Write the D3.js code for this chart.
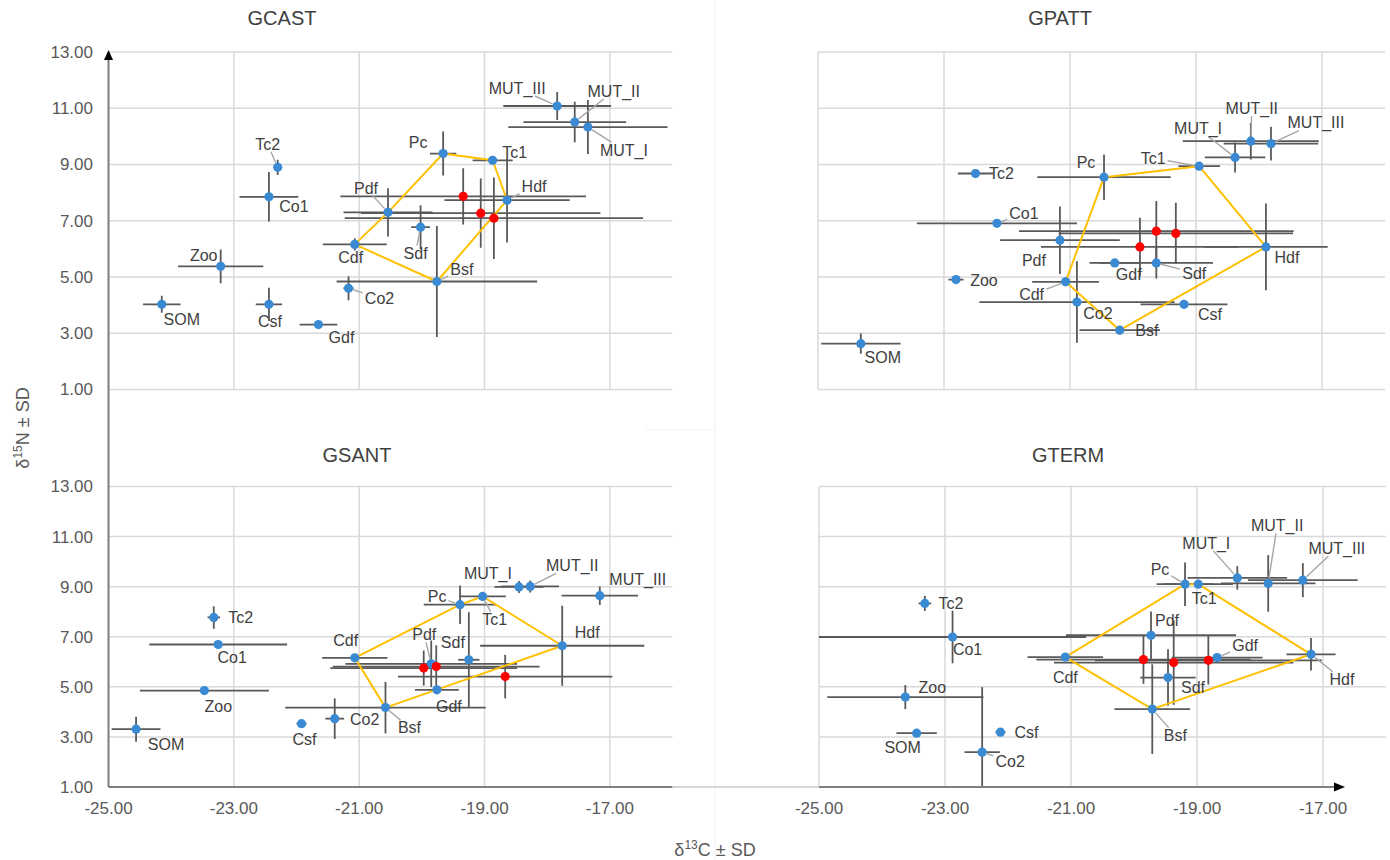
<!DOCTYPE html>
<html>
<head>
<meta charset="utf-8">
<script src="https://cdn.jsdelivr.net/npm/d3@7"></script>
<style>
  body { margin: 0; background: #fff; }
  text { font-family: "Liberation Sans", Arial, sans-serif; }
</style>
</head>
<body>
<svg id="chart" width="1390" height="860"></svg>
<script>
// ---- axis ticks ----
const xTicks = [-25, -23, -21, -19, -17];
const yTicks = [1, 3, 5, 7, 9, 11, 13];
const panelNames = ["GCAST", "GPATT", "GSANT", "GTERM"];

// ---- group means: [group, δ13C, SD, δ15N, SD] ----
const gcast = [
  ["SOM", -24.15, 0.30, 4.03, 0.30],
  ["Zoo", -23.21, 0.68, 5.38, 0.60],
  ["Tc2", -22.30, 0.06, 8.90, 0.27],
  ["Co1", -22.44, 0.47, 7.85, 0.88],
  ["Csf", -22.44, 0.21, 4.03, 0.59],
  ["Gdf", -21.65, 0.30, 3.31, 0.08],
  ["Co2", -21.17, 0.08, 4.60, 0.43],
  ["Cdf", -21.07, 0.51, 6.16, 0.22],
  ["Pdf", -20.54, 0.71, 7.30, 0.86],
  ["Sdf", -20.02, 0.15, 6.77, 0.78],
  ["Pc", -19.66, 0.21, 9.39, 0.78],
  ["Bsf", -19.76, 1.60, 4.84, 1.97],
  ["Tc1", -18.87, 0.32, 9.15, 0.10],
  ["Hdf", -18.64, 1.00, 7.73, 1.50],
  ["MUT_I", -17.35, 1.27, 10.33, 0.96],
  ["MUT_II", -17.56, 0.82, 10.51, 0.72],
  ["MUT_III", -17.84, 0.86, 11.08, 0.50]
];
const gpatt = [
  ["SOM", -24.32, 0.63, 2.63, 0.36],
  ["Zoo", -22.81, 0.12, 4.91, 0.04],
  ["Tc2", -22.50, 0.28, 8.68, 0.15],
  ["Co1", -22.16, 1.27, 6.91, 0.05],
  ["Pdf", -21.16, 0.95, 6.31, 1.20],
  ["Cdf", -21.07, 0.53, 4.83, 0.15],
  ["Co2", -20.89, 1.55, 4.11, 1.45],
  ["Pc", -20.46, 1.06, 8.55, 0.81],
  ["Gdf", -20.29, 0.40, 5.50, 0.08],
  ["Bsf", -20.21, 0.64, 3.11, 0.15],
  ["Sdf", -19.63, 0.90, 5.50, 0.55],
  ["Csf", -19.19, 0.69, 4.03, 0.10],
  ["Tc1", -18.95, 0.33, 8.94, 0.12],
  ["MUT_I", -18.38, 0.48, 9.25, 0.53],
  ["MUT_II", -18.13, 1.08, 9.83, 0.65],
  ["MUT_III", -17.81, 0.75, 9.74, 0.60],
  ["Hdf", -17.89, 0.98, 6.07, 1.54]
];
const gsant = [
  ["SOM", -24.56, 0.39, 3.31, 0.50],
  ["Zoo", -23.47, 1.03, 4.85, 0.04],
  ["Tc2", -23.32, 0.10, 7.77, 0.45],
  ["Co1", -23.25, 1.10, 6.69, 0.10],
  ["Csf", -21.92, 0.08, 3.53, 0.06],
  ["Co2", -21.39, 0.15, 3.73, 0.81],
  ["Cdf", -21.07, 0.52, 6.16, 0.15],
  ["Bsf", -20.58, 1.60, 4.17, 1.03],
  ["Pdf", -19.85, 1.37, 5.92, 0.93],
  ["Gdf", -19.76, 0.35, 4.88, 0.08],
  ["Pc", -19.39, 0.58, 8.28, 0.77],
  ["Sdf", -19.25, 0.17, 6.08, 1.90],
  ["Tc1", -19.03, 0.37, 8.61, 0.10],
  ["MUT_I", -18.45, 0.39, 8.99, 0.24],
  ["MUT_II", -18.27, 0.46, 9.01, 0.24],
  ["Hdf", -17.76, 1.31, 6.64, 1.60],
  ["MUT_III", -17.16, 0.61, 8.64, 0.37]
];
const gterm = [
  ["SOM", -23.45, 0.32, 3.15, 0.08],
  ["Zoo", -23.63, 1.24, 4.59, 0.48],
  ["Tc2", -23.32, 0.10, 8.33, 0.30],
  ["Co1", -22.88, 2.12, 6.99, 1.05],
  ["Csf", -22.12, 0.08, 3.19, 0.06],
  ["Co2", -22.41, 0.28, 2.39, 2.60],
  ["Cdf", -21.09, 0.60, 6.19, 0.15],
  ["Pdf", -19.73, 1.35, 7.06, 0.95],
  ["Bsf", -19.71, 0.60, 4.11, 1.79],
  ["Sdf", -19.46, 0.44, 5.37, 1.13],
  ["Pc", -19.19, 0.45, 9.10, 0.87],
  ["Tc1", -18.98, 0.55, 9.10, 0.10],
  ["Gdf", -18.68, 0.72, 6.17, 0.10],
  ["MUT_I", -18.36, 0.79, 9.35, 0.47],
  ["MUT_II", -17.87, 0.75, 9.13, 1.13],
  ["MUT_III", -17.32, 0.87, 9.26, 0.68],
  ["Hdf", -17.19, 0.39, 6.30, 0.65]
];

// ---- consumer mixture points (red): [δ13C, SD, δ15N, SD] ----
const gcastMix = [[-19.34, 1.96, 7.87, 1.00], [-19.06, 1.91, 7.27, 1.23], [-18.85, 2.38, 7.09, 1.45]];
const gpattMix = [[-19.89, 1.57, 6.07, 1.04], [-19.63, 2.18, 6.63, 1.07], [-19.32, 1.86, 6.55, 1.09]];
const gsantMix = [[-19.97, 1.49, 5.75, 0.70], [-19.77, 1.65, 5.81, 0.85], [-18.67, 1.71, 5.41, 0.87]];
const gtermMix = [[-19.85, 1.70, 6.09, 0.97], [-19.37, 1.90, 5.97, 1.69], [-18.82, 1.80, 6.06, 0.97]];

// ---- groups outlining the fish polygon ----
const hullGCAST = ["Cdf", "Pdf", "Pc", "Tc1", "Hdf", "Bsf"];
const hullGPATT = ["Cdf", "Pc", "Tc1", "Hdf", "Bsf"];
const hullGSANT = ["Cdf", "Pc", "Tc1", "Hdf", "Bsf"];
const hullGTERM = ["Cdf", "Pc", "Tc1", "Hdf", "Bsf"];

const sources = {
  GCAST: { rows: gcast, mix: gcastMix, hull: hullGCAST },
  GPATT: { rows: gpatt, mix: gpattMix, hull: hullGPATT },
  GSANT: { rows: gsant, mix: gsantMix, hull: hullGSANT },
  GTERM: { rows: gterm, mix: gtermMix, hull: hullGTERM }
};

// ---- panel frames (pixel layout) ----
const frames = {
  GCAST: { xr: [108.5, 672.5], yr: [389.5, 52], title: [282, 25], outerX: false, bottomAxis: false },
  GPATT: { xr: [818, 1385], yr: [389.5, 52], title: [1060, 25], outerX: true, bottomAxis: false },
  GSANT: { xr: [108.5, 672.5], yr: [787, 486.5], title: [357, 462], outerX: false, bottomAxis: true },
  GTERM: { xr: [819, 1386], yr: [787, 486.5], title: [1068, 462], outerX: true, bottomAxis: true }
};

// label offsets from each point: [dx, dy, leader line]
const labelPos = {
  GCAST: { SOM:[20,15,0], Zoo:[-17,-11,0], Tc2:[-10,-23,1], Co1:[25,10,0], Csf:[1,17,0], Gdf:[23,13,0],
           Co2:[31,10,1], Cdf:[-4,13,0], Pdf:[-22,-24,1], Sdf:[-5,26,1], Pc:[-25,-11,0], Bsf:[25,-12,1],
           Tc1:[22,-8,0], Hdf:[27,-14,1], MUT_I:[36,23,1], MUT_II:[39,-31,1], MUT_III:[-40,-18,1] },
  GPATT: { SOM:[22,14,0], Zoo:[28,1,0], Tc2:[26,0,0], Co1:[27,-10,1], Pdf:[-26,20,0], Cdf:[-34,13,1],
           Co2:[21,11,0], Pc:[-18,-15,0], Gdf:[14,11,0], Bsf:[27,0,0], Sdf:[38,10,1], Csf:[26,10,0],
           Tc1:[-46,-8,1], MUT_I:[-37,-29,1], MUT_II:[1,-33,1], MUT_III:[45,-21,1], Hdf:[21,10,0] },
  GSANT: { SOM:[30,15,0], Zoo:[14,16,0], Tc2:[27,0,0], Co1:[14,13,0], Csf:[3,16,0], Co2:[30,1,0],
           Cdf:[-9,-17,0], Bsf:[24,20,1], Pdf:[-7,-29,1], Gdf:[12,17,0], Pc:[-23,-8,1], Sdf:[-16,-17,0],
           Tc1:[12,23,1], MUT_I:[-31,-14,0], MUT_II:[42,-21,1], Hdf:[25,-13,0], MUT_III:[38,-16,0] },
  GTERM: { SOM:[-14,14,0], Zoo:[27,-10,0], Tc2:[26,0,0], Co1:[15,12,0], Csf:[26,0,0], Co2:[28,9,1],
           Cdf:[0,20,0], Pdf:[16,-15,0], Bsf:[23,26,1], Sdf:[25,10,0], Pc:[-25,-15,1], Tc1:[6,14,0],
           Gdf:[28,-12,1], MUT_I:[-31,-35,1], MUT_II:[9,-58,1], MUT_III:[34,-32,1], Hdf:[31,25,1] }
};

const COLORS = {
  grid: "#d9d9d9", axis: "#7f7f7f", bar: "#595959", point: "#3a8ad3",
  mix: "#ff0000", hull: "#ffc000", text: "#404040", tick: "#595959", leader: "#a6a6a6"
};
// two decimals with a plain hyphen for negatives
const fmt = d => d.toFixed(2);

const svg = d3.select("#chart");

// faint page divisions
svg.append("line").attr("x1", 715).attr("x2", 715).attr("y1", 0).attr("y2", 860)
  .attr("stroke", "#f2f2f2").attr("stroke-width", 1);
svg.append("line").attr("x1", 645).attr("x2", 715).attr("y1", 430).attr("y2", 430)
  .attr("stroke", "#f2f2f2").attr("stroke-width", 1);

const defs = svg.append("defs");

panelNames.forEach((name, i) => {
  const f = frames[name];
  const src = sources[name];
  const x = d3.scaleLinear().domain([-25, -16]).range(f.xr);
  const y = d3.scaleLinear().domain([1, 13]).range(f.yr);
  const g = svg.append("g").attr("class", "panel " + name);

  // grid
  const gridX = f.outerX ? xTicks : xTicks.slice(1);
  g.selectAll(".vgrid").data(gridX).join("line")
    .attr("x1", d => x(d)).attr("x2", d => x(d))
    .attr("y1", y(13)).attr("y2", y(1))
    .attr("stroke", COLORS.grid).attr("stroke-width", 1.5);
  const gridY = f.bottomAxis ? yTicks.slice(1) : yTicks;
  g.selectAll(".hgrid").data(gridY).join("line")
    .attr("x1", x(-25)).attr("x2", x(-16))
    .attr("y1", d => y(d)).attr("y2", d => y(d))
    .attr("stroke", COLORS.grid).attr("stroke-width", 1.5);

  // tick labels
  if (!f.outerX) {
    g.selectAll(".ylab").data(yTicks).join("text")
      .attr("x", 93).attr("y", d => y(d)).attr("dy", "0.35em")
      .attr("text-anchor", "end").attr("font-size", 17).attr("fill", COLORS.tick)
      .text(fmt);
  }
  if (f.bottomAxis) {
    g.selectAll(".xlab").data(xTicks).join("text")
      .attr("x", d => x(d)).attr("y", y(1) + 21).attr("dy", "0.35em")
      .attr("text-anchor", "middle").attr("font-size", 17).attr("fill", COLORS.tick)
      .text(fmt);
  }

  // title
  g.append("text").attr("x", f.title[0]).attr("y", f.title[1])
    .attr("text-anchor", "middle").attr("font-size", 20).attr("fill", COLORS.text)
    .text(name);

  // clip to plot area
  const clipId = "clip-" + name;
  defs.append("clipPath").attr("id", clipId).append("rect")
    .attr("x", x(-25)).attr("y", y(13) - 2)
    .attr("width", x(-16) - x(-25)).attr("height", y(1) - y(13) + 2);
  const plot = g.append("g").attr("clip-path", `url(#${clipId})`);

  const pts = src.rows.map(r => ({ id: r[0], c: r[1], sc: r[2], n: r[3], sn: r[4] }));
  const mix = src.mix.map(r => ({ c: r[0], sc: r[1], n: r[2], sn: r[3] }));
  const all = pts.concat(mix);

  // error bars
  plot.selectAll(".hbar").data(all).join("line")
    .attr("x1", d => x(d.c - d.sc)).attr("x2", d => x(d.c + d.sc))
    .attr("y1", d => y(d.n)).attr("y2", d => y(d.n))
    .attr("stroke", COLORS.bar).attr("stroke-width", 1.8);
  plot.selectAll(".vbar").data(all).join("line")
    .attr("x1", d => x(d.c)).attr("x2", d => x(d.c))
    .attr("y1", d => y(d.n - d.sn)).attr("y2", d => y(d.n + d.sn))
    .attr("stroke", COLORS.bar).attr("stroke-width", 1.8);

  // fish polygon
  const byId = new Map(pts.map(p => [p.id, p]));
  const hullPts = src.hull.map(id => byId.get(id));
  plot.append("path")
    .datum(hullPts)
    .attr("d", d3.line().x(d => x(d.c)).y(d => y(d.n)).curve(d3.curveLinearClosed))
    .attr("fill", "none").attr("stroke", COLORS.hull).attr("stroke-width", 2)
    .attr("stroke-linejoin", "round");

  // points
  plot.selectAll(".pt").data(pts).join("circle")
    .attr("cx", d => x(d.c)).attr("cy", d => y(d.n)).attr("r", 4.6)
    .attr("fill", COLORS.point);
  plot.selectAll(".mx").data(mix).join("circle")
    .attr("cx", d => x(d.c)).attr("cy", d => y(d.n)).attr("r", 4.6)
    .attr("fill", COLORS.mix);

  // labels with leader lines
  const lp = labelPos[name];
  const leaders = g.append("g");
  pts.forEach(p => {
    const o = lp[p.id] || [15, -10, 0];
    const px = x(p.c), py = y(p.n);
    const lx = px + o[0], ly = py + o[1];
    const t = g.append("text").attr("x", lx).attr("y", ly).attr("dy", "0.35em")
      .attr("text-anchor", "middle").attr("font-size", 16).attr("fill", COLORS.text)
      .text(p.id);
    if (o[2]) {
      const bb = t.node().getBBox();
      const hw = bb.width / 2 + 2, hh = bb.height / 2 - 1;
      const dx = px - lx, dy = py - ly;
      const tx = dx !== 0 ? hw / Math.abs(dx) : Infinity;
      const ty = dy !== 0 ? hh / Math.abs(dy) : Infinity;
      const tt = Math.min(tx, ty);
      if (tt < 1) {
        const sx = lx + dx * tt, sy = ly + dy * tt;
        const len = Math.hypot(px - sx, py - sy);
        if (len > 7) {
          const ex = px - (px - sx) / len * 5, ey = py - (py - sy) / len * 5;
          leaders.append("line").attr("x1", sx).attr("y1", sy).attr("x2", ex).attr("y2", ey)
            .attr("stroke", COLORS.leader).attr("stroke-width", 1.4);
        }
      }
    }
  });
});

// main axes
const axisG = svg.append("g");
axisG.append("line").attr("x1", 108.5).attr("x2", 108.5).attr("y1", 58).attr("y2", 787)
  .attr("stroke", COLORS.axis).attr("stroke-width", 2);
axisG.append("path").attr("d", "M108.5,50 L104,60 L113,60 Z").attr("fill", "#000");
axisG.append("line").attr("x1", 108.5).attr("x2", 672.5).attr("y1", 787).attr("y2", 787)
  .attr("stroke", COLORS.axis).attr("stroke-width", 2);
axisG.append("line").attr("x1", 672.5).attr("x2", 819).attr("y1", 787).attr("y2", 787)
  .attr("stroke", "#c8c8c8").attr("stroke-width", 1.5);
axisG.append("line").attr("x1", 819).attr("x2", 1336).attr("y1", 787).attr("y2", 787)
  .attr("stroke", COLORS.axis).attr("stroke-width", 2);
axisG.append("path").attr("d", "M1345,787 L1334,782.5 L1334,791.5 Z").attr("fill", "#000");

// axis titles
const xt = svg.append("text").attr("x", 715).attr("y", 856).attr("text-anchor", "middle")
  .attr("font-size", 18).attr("fill", COLORS.tick);
xt.append("tspan").text("δ");
xt.append("tspan").attr("font-size", 12).attr("dy", -7).text("13");
xt.append("tspan").attr("dy", 7).text("C  ± SD");

const yt = svg.append("text").attr("transform", "translate(29,428) rotate(-90)")
  .attr("text-anchor", "middle").attr("font-size", 18).attr("fill", COLORS.tick);
yt.append("tspan").text("δ");
yt.append("tspan").attr("font-size", 12).attr("dy", -7).text("15");
yt.append("tspan").attr("dy", 7).text("N  ± SD");
</script>
</body>
</html>
